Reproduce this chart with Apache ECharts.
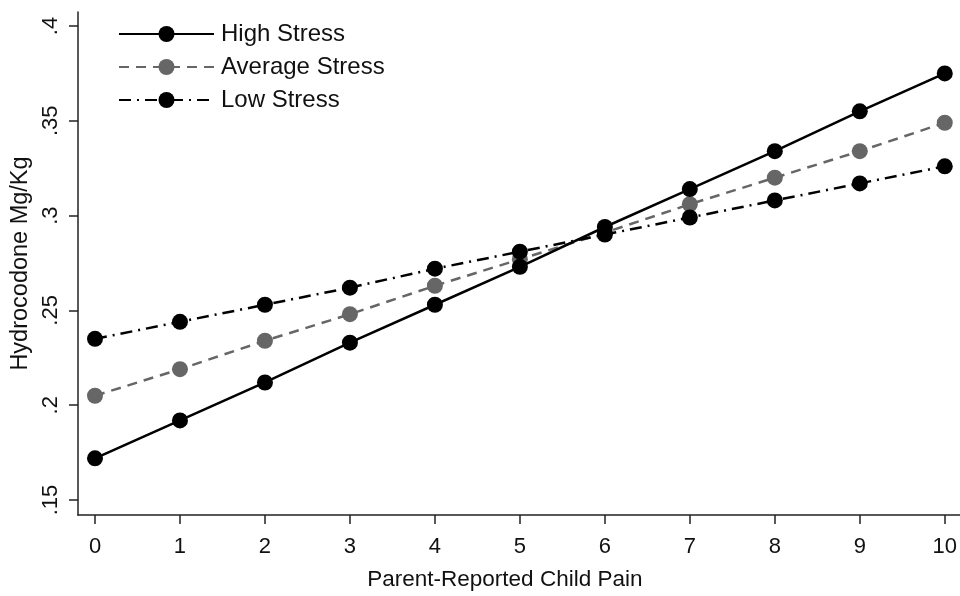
<!DOCTYPE html>
<html><head><meta charset="utf-8">
<script src="https://cdn.jsdelivr.net/npm/echarts@6/dist/echarts.min.js"></script>
<style>html,body{margin:0;padding:0;background:#fff}#c{width:960px;height:596px}</style>
</head><body><div id="c"></div>
<script>
const pain = [0,1,2,3,4,5,6,7,8,9,10];
const highStress = [0.172,0.192,0.212,0.233,0.253,0.273,0.294,0.314,0.334,0.355,0.375];
const avgStress  = [0.205,0.219,0.234,0.248,0.263,0.277,0.291,0.306,0.320,0.334,0.349];
const lowStress  = [0.235,0.244,0.253,0.262,0.272,0.281,0.290,0.299,0.308,0.317,0.326];
const yTicks = [0.15,0.2,0.25,0.3,0.35,0.4];
const yTickLabels = ['.15','.2','.25','.3','.35','.4'];
const seriesNames = ['High Stress','Average Stress','Low Stress'];

const font = 'Liberation Sans, Arial, sans-serif';
const pairs = v => pain.map((x,i)=>[x,v[i]]);
const chart = echarts.init(document.getElementById('c'), null, {renderer:'canvas'});
function mk(name, data, color, lineType){
  return {name, type:'line', data:pairs(data), symbol:'circle', symbolSize:16,
    lineStyle:{color, width:2.5, type:lineType}, itemStyle:{color},
    emphasis:{disabled:true}, animation:false, z: name==='Average Stress'?2:3};
}
chart.setOption({
  animation:false,
  grid:{left:78, right:0, top:12, bottom:79},
  legend:{left:113, top:17, orient:'vertical', itemWidth:95, itemHeight:20, itemGap:9,
    textStyle:{fontFamily:font, fontSize:24, color:'#111', padding:[0,0,0,2]},
    data:seriesNames},
  xAxis:{type:'value', min:-0.2, max:10.176,
    name:'Parent-Reported Child Pain', nameLocation:'middle', nameGap:53,
    nameTextStyle:{fontFamily:font, fontSize:22.5, color:'#111', padding:[0,28,0,0]},
    axisLine:{show:true, onZero:false, lineStyle:{color:'#222', width:1.5}},
    axisTick:{show:true, length:9, customValues:pain, lineStyle:{color:'#222', width:1.5}},
    axisLabel:{customValues:pain, fontFamily:font, fontSize:22, color:'#111', margin:21},
    splitLine:{show:false}},
  yAxis:{type:'value', min:0.1421, max:0.4074,
    name:'Hydrocodone Mg/Kg', nameLocation:'middle', nameGap:45, nameRotate:90,
    nameTextStyle:{fontFamily:font, fontSize:23.5, color:'#111'},
    axisLine:{show:true, onZero:false, lineStyle:{color:'#222', width:1.5}},
    axisTick:{show:true, length:9, customValues:yTicks, lineStyle:{color:'#222', width:1.5}},
    axisLabel:{customValues:yTicks, rotate:90, fontFamily:font, fontSize:22, color:'#111', margin:16,
      formatter:v=>{const i=yTicks.findIndex(t=>Math.abs(t-v)<1e-6);return i>=0?yTickLabels[i]:'';}},
    splitLine:{show:false}},
  series:[
    mk(seriesNames[0], highStress, '#000', 'solid'),
    mk(seriesNames[1], avgStress, '#666', [10,7]),
    mk(seriesNames[2], lowStress, '#000', [12,6,2,6])
  ]
});
</script></body></html>
